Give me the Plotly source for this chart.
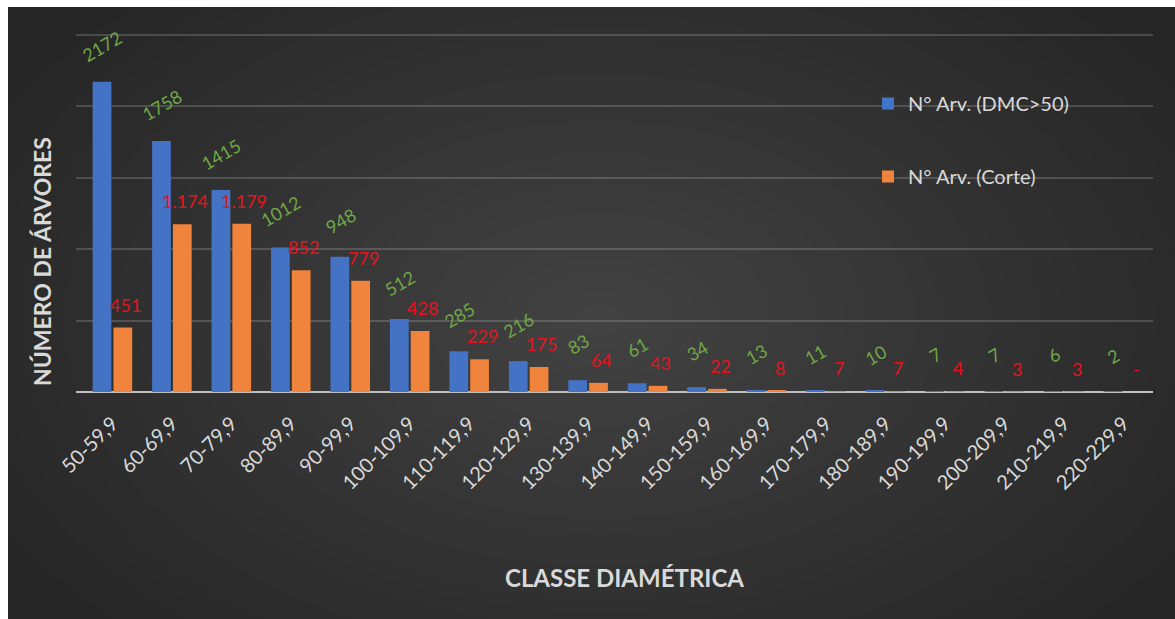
import plotly.graph_objects as go

categories = ["50-59,9", "60-69,9", "70-79,9", "80-89,9", "90-99,9", "100-109,9",
              "110-119,9", "120-129,9", "130-139,9", "140-149,9", "150-159,9",
              "160-169,9", "170-179,9", "180-189,9", "190-199,9", "200-209,9",
              "210-219,9", "220-229,9"]
dmc = [2172, 1758, 1415, 1012, 948, 512, 285, 216, 83, 61, 34, 13, 11, 10, 7, 7, 6, 2]
corte = [451, 1174, 1179, 852, 779, 428, 229, 175, 64, 43, 22, 8, 7, 7, 4, 3, 3, 0]
y_ticks = [0, 500, 1000, 1500, 2000, 2500]

W, H = 1175, 619
ML, MR, MT, MB = 76, 22, 31, 227
PW, PH = W - ML - MR, H - MT - MB
Y_MAX = 2528


def px_x(p):
    return (p - ML) / PW


def px_y(p):
    return (H - MB - p) / PH


def corte_label(v):
    if v == 0:
        return "-"
    return f"{v:,}".replace(",", ".")


FONT = "Lato"
TXT = "#d9d9d9"

fig = go.Figure()
fig.add_trace(go.Bar(x=categories, y=dmc, name="N° Arv. (DMC>50)",
                     marker=dict(color="#4472C4", line=dict(width=0)),
                     legendgroup="a"))
fig.add_trace(go.Bar(x=categories, y=corte, name="N° Arv. (Corte)",
                     marker=dict(color="#F0843C", line=dict(width=0)),
                     legendgroup="b"))

annotations = []
for c, v in zip(categories, dmc):
    annotations.append(dict(x=c, y=v, xref="x", yref="y", text=str(v),
                            showarrow=False, textangle=-30, xshift=-10, yshift=36,
                            font=dict(family=FONT, size=18, color="#6FA846")))
for c, v in zip(categories, corte):
    annotations.append(dict(x=c, y=v, xref="x", yref="y", text=corte_label(v),
                            showarrow=False, xshift=13, yshift=23,
                            font=dict(family=FONT, size=18, color="#E3141E")))
annotations.append(dict(x=px_x(42), y=px_y(262), xref="paper", yref="paper",
                        xanchor="center", yanchor="middle",
                        text="<b>NÚMERO DE ÁRVORES</b>", textangle=-90, showarrow=False,
                        font=dict(family=FONT, size=23, color=TXT)))
annotations.append(dict(x=px_x(624), y=px_y(577), xref="paper", yref="paper",
                        xanchor="center", yanchor="middle",
                        text="<b>CLASSE DIAMÉTRICA</b>", showarrow=False,
                        font=dict(family=FONT, size=24, color=TXT)))

shapes = []
shapes.append(dict(type="rect", xref="paper", yref="paper", layer="below",
                   x0=px_x(0), x1=px_x(W), y0=px_y(H), y1=px_y(0),
                   fillcolor="#262626", line=dict(width=0)))
cx, cy = 600, 320
N = 28
for i in range(N):
    f = 1 - i / N
    rx, ry = 680 * f, 430 * f
    shapes.append(dict(type="circle", xref="paper", yref="paper", layer="below",
                       x0=px_x(cx - rx), x1=px_x(cx + rx),
                       y0=px_y(cy + ry), y1=px_y(cy - ry),
                       fillcolor="rgba(255,255,255,0.0088)", line=dict(width=0)))
shapes.append(dict(type="rect", xref="paper", yref="paper", layer="below",
                   x0=px_x(0), x1=px_x(W), y0=px_y(7), y1=px_y(0),
                   fillcolor="white", line=dict(width=0)))
shapes.append(dict(type="rect", xref="paper", yref="paper", layer="below",
                   x0=px_x(0), x1=px_x(8), y0=px_y(H), y1=px_y(0),
                   fillcolor="white", line=dict(width=0)))

fig.update_layout(
    width=W, height=H,
    margin=dict(l=ML, r=MR, t=MT, b=MB, pad=0),
    paper_bgcolor="white",
    plot_bgcolor="rgba(0,0,0,0)",
    barmode="group", bargap=0.3, bargroupgap=0.1,
    font=dict(family=FONT, color=TXT),
    xaxis=dict(tickangle=-45, tickfont=dict(size=20, color=TXT, family=FONT),
               showgrid=False, ticks="", showline=False, ticklabelstandoff=15),
    yaxis=dict(range=[0, Y_MAX], tickvals=y_ticks, showticklabels=False,
               gridcolor="rgba(255,255,255,0.17)", gridwidth=1.5,
               zeroline=True, zerolinecolor="#bfbfbf", zerolinewidth=2),
    legend=dict(x=px_x(868), y=px_y(84), xanchor="left", yanchor="top",
                bgcolor="rgba(0,0,0,0)", font=dict(size=20, color=TXT, family=FONT),
                traceorder="grouped", tracegroupgap=44),
    annotations=annotations,
    shapes=shapes,
    showlegend=True,
)

fig.write_html("out.html")
